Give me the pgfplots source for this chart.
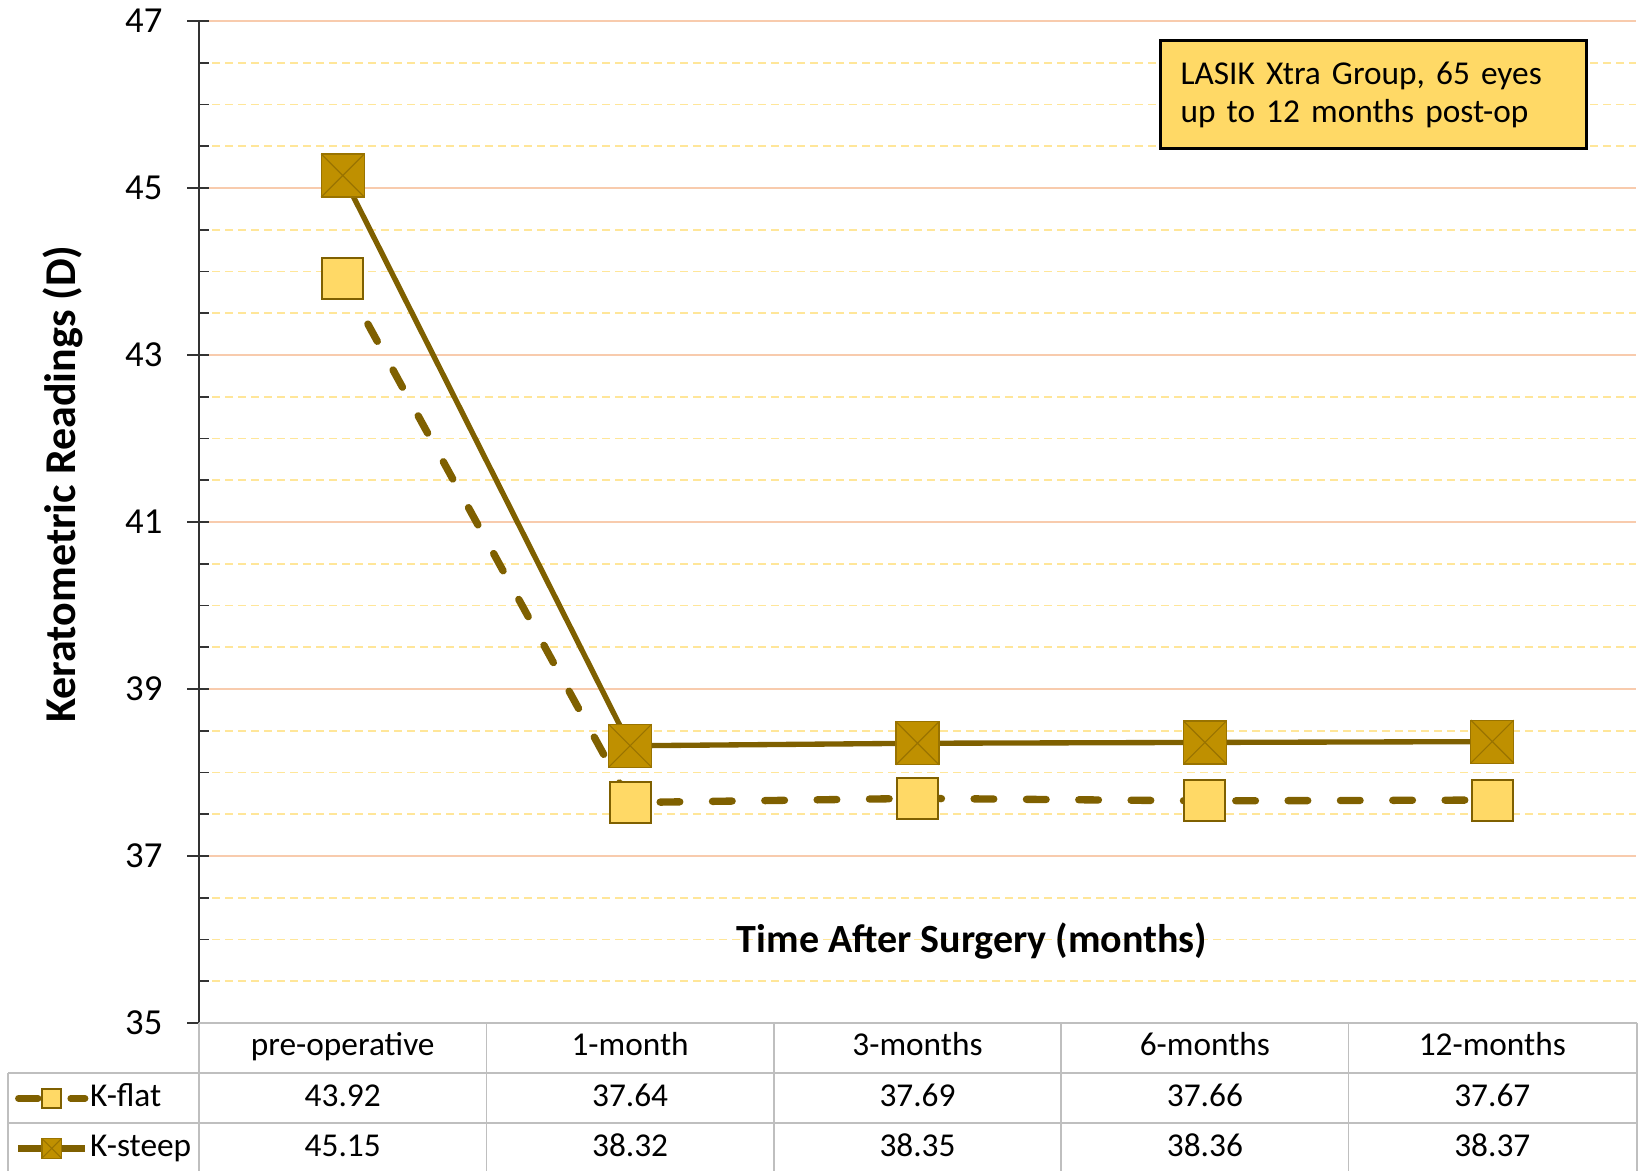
\documentclass[border=0pt]{standalone}
\usepackage{fontspec}
\setmainfont{Carlito}
\usepackage{pgfplots}
\usepackage{pgfplotstable}
\pgfplotsset{compat=1.18}

\definecolor{kline}{HTML}{7F6000}
\definecolor{ksteep}{HTML}{BF9000}
\definecolor{kflat}{HTML}{FFD966}
\definecolor{majgrid}{HTML}{F8CBAD}
\definecolor{mingrid}{HTML}{FFE699}
\definecolor{tblline}{HTML}{BFBFBF}

% soft shadow under a square mark
\newcommand\markshadow{%
  \begin{pgfscope}
    \pgfsetfillcolor{black}\pgfsetfillopacity{0.10}%
    \pgfpathrectangle{\pgfqpoint{-\pgfplotmarksize+0.4pt}{-\pgfplotmarksize-1.6pt}}{\pgfqpoint{2\pgfplotmarksize+1.4pt}{2\pgfplotmarksize+0.4pt}}%
    \pgfusepathqfill
    \pgfpathrectangle{\pgfqpoint{-\pgfplotmarksize+0.8pt}{-\pgfplotmarksize-1.1pt}}{\pgfqpoint{2\pgfplotmarksize+0.6pt}{2\pgfplotmarksize}}%
    \pgfusepathqfill
  \end{pgfscope}}

% plain square with shadow, for K-flat
\pgfdeclareplotmark{sbox}{%
  \markshadow
  \pgfpathrectangle{\pgfqpoint{-\pgfplotmarksize}{-\pgfplotmarksize}}{\pgfqpoint{2\pgfplotmarksize}{2\pgfplotmarksize}}%
  \pgfusepathqfillstroke}

% square with an X inside, for K-steep
\pgfdeclareplotmark{xbox}{%
  \markshadow
  \pgfpathrectangle{\pgfqpoint{-\pgfplotmarksize}{-\pgfplotmarksize}}{\pgfqpoint{2\pgfplotmarksize}{2\pgfplotmarksize}}%
  \pgfusepathqfillstroke
  \pgfpathmoveto{\pgfqpoint{-\pgfplotmarksize}{-\pgfplotmarksize}}%
  \pgfpathlineto{\pgfqpoint{\pgfplotmarksize}{\pgfplotmarksize}}%
  \pgfpathmoveto{\pgfqpoint{-\pgfplotmarksize}{\pgfplotmarksize}}%
  \pgfpathlineto{\pgfqpoint{\pgfplotmarksize}{-\pgfplotmarksize}}%
  \pgfusepathqstroke}

\newcommand\tblfont{\fontsize{10}{12}\selectfont}
\tikzset{tblcell/.style={anchor=base, font=\tblfont}}

\pgfplotstableread{
x label flat steep
0 pre-operative 43.92 45.15
1 1-month 37.64 38.32
2 3-months 37.69 38.35
3 6-months 37.66 38.36
4 12-months 37.67 38.37
}\kdata

\begin{document}
\begin{tikzpicture}
\begin{axis}[
  scale only axis, width=431.1pt, height=300.6pt,
  xmin=-0.5, xmax=4.5, ymin=35, ymax=47,
  clip=false,
  axis lines*=left, axis line style={-},
  x axis line style={draw=none},
  y axis line style={black!80, line width=0.5pt},
  xtick={0,...,4}, xticklabels from table={\kdata}{label},
  x tick style={draw=none},
  xticklabel style={anchor=base, yshift=-9.9pt, font=\tblfont},
  ytick={35,37,...,47}, minor y tick num=3,
  tick align=inside, major tick length=3pt, minor tick length=3pt,
  y tick style={black!80, line width=0.5pt},
  ymajorgrids, yminorgrids,
  major grid style={majgrid, line width=0.5pt},
  minor grid style={mingrid, line width=0.5pt, dash pattern=on 2.4pt off 1.5pt},
  yticklabel style={inner sep=0pt, xshift=-10.8pt, font=\fontsize{11}{13}\selectfont},
  /pgf/number format/assume math mode=true,
  ylabel={Keratometric Readings (D)},
  ylabel style={at={(rel axis cs:-0.0946,0.538)}, anchor=center, font=\bfseries\fontsize{13.2}{15}\selectfont},
  legend cell align=left,
  legend style={at={(rel axis cs:-0.128,-0.0603)}, anchor=north west, draw=none, fill=none,
    inner sep=0pt, outer sep=0pt, row sep=6pt, font=\tblfont,
    nodes={inner sep=0pt, text height=7pt, text depth=2pt},
    /tikz/every odd column/.style={column sep=0.5pt}},
  legend image code/.code={\draw[mark repeat=2, mark phase=2, mark size=2.9pt, line width=2pt]
    plot coordinates {(0pt,0pt) (10pt,0pt) (20pt,0pt)};},
]
\addplot[kline, line width=2.2pt, dash pattern=on 5.9pt off 9.8pt, line cap=round,
  mark=sbox, mark size=6.15pt,
  mark options={solid, fill=kflat, draw=kline, line width=0.6pt}]
  table[x=x, y=flat]{\kdata};
\addlegendentry{K-flat}
\addplot[kline, line width=1.6pt,
  mark=xbox, mark size=6.45pt,
  mark options={solid, fill=ksteep, draw=kline!60!ksteep, line width=0.35pt}]
  table[x=x, y=steep]{\kdata};
\addlegendentry{K-steep}

% outward part of the major y ticks
\pgfplotsinvokeforeach{35,37,39,41,43,45,47}{
  \draw[black!80, line width=0.5pt] (axis cs:-0.5,#1) -- ++(-3.6pt,0pt);
}

% data table under the plot
\draw[tblline, line width=0.5pt] (rel axis cs:0,0) -- (rel axis cs:1.0007,0);
\draw[tblline, line width=0.5pt] (rel axis cs:-0.1329,-0.0499) -- (rel axis cs:1.0007,-0.0499);
\draw[tblline, line width=0.5pt] (rel axis cs:-0.1329,-0.0998) -- (rel axis cs:1.0007,-0.0998);
\draw[tblline, line width=0.5pt] (rel axis cs:-0.1329,-0.0499) -- (rel axis cs:-0.1329,-0.1477);
\pgfplotsinvokeforeach{0,0.2,0.4,0.6,0.8,1.0007}{
  \draw[tblline, line width=0.5pt] (rel axis cs:#1,0) -- (rel axis cs:#1,-0.1477);
}
\pgfplotsinvokeforeach{0,...,4}{
  \pgfplotstablegetelem{#1}{flat}\of\kdata
  \edef\cellA{\pgfplotsretval}
  \pgfplotstablegetelem{#1}{steep}\of\kdata
  \edef\cellB{\pgfplotsretval}
  \edef\doit{\noexpand\node[tblcell] at (axis cs:#1,33.998) {\cellA};
    \noexpand\node[tblcell] at (axis cs:#1,33.399) {\cellB};}
  \doit
}

\node[font=\bfseries\fontsize{12}{14}\selectfont] at (rel axis cs:0.538,0.082)
  {Time After Surgery (months)};

\node[draw=black, line width=1pt, fill=kflat, anchor=north west, align=left,
  text width=115.8pt, inner xsep=6pt, minimum height=32.4pt,
  font=\fontsize{10}{11.4}\selectfont] at (rel axis cs:0.668,0.982)
  {LASIK Xtra Group, 65 eyes\\up to 12 months post-op};

\path (rel axis cs:-0.1385,-0.1477) rectangle (rel axis cs:1.00278,1.02096);
\end{axis}
\end{tikzpicture}
\end{document}
